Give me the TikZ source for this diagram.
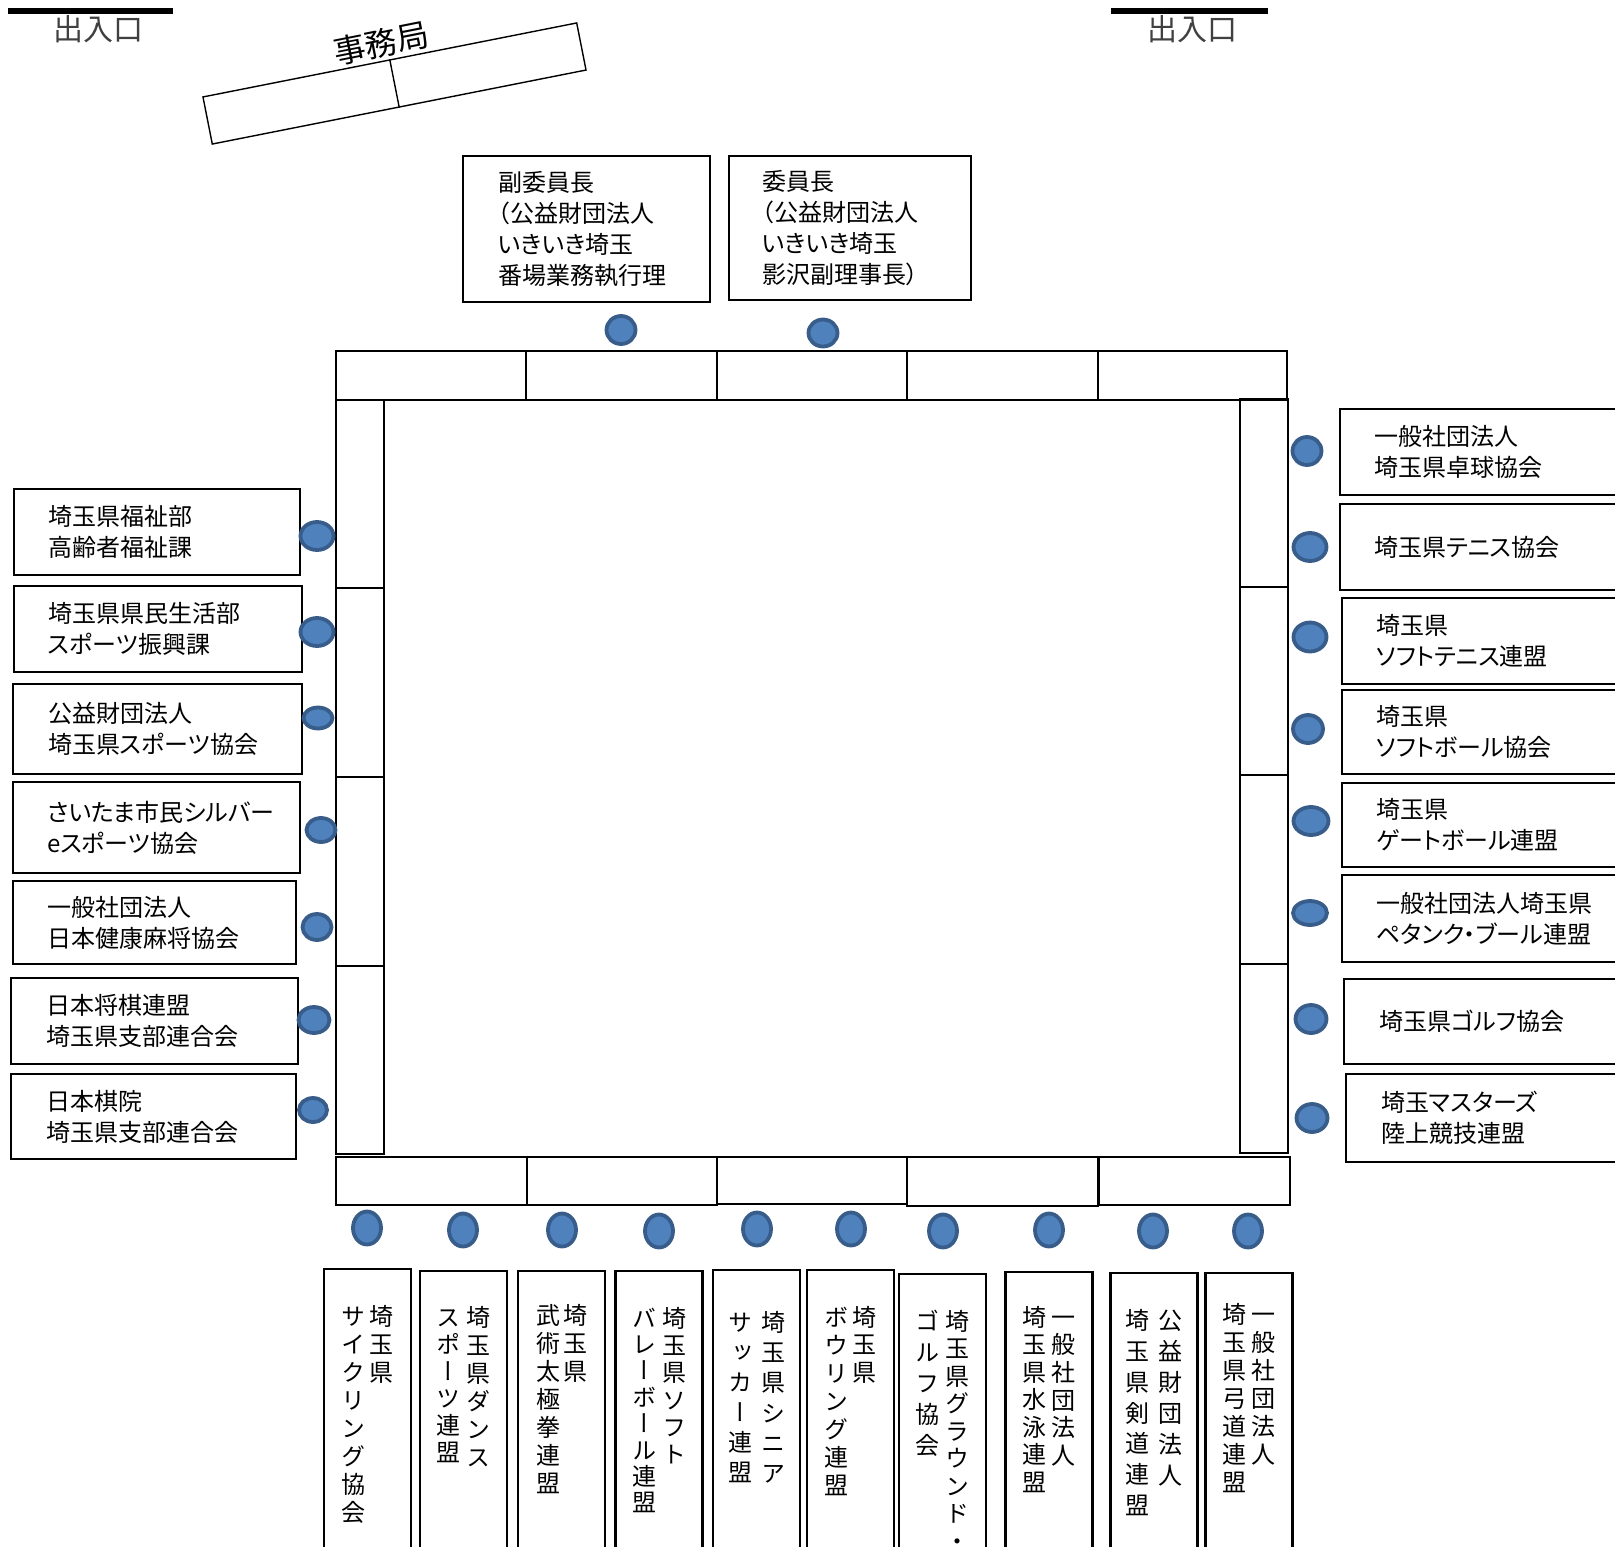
\documentclass[tikz,border=0pt]{standalone}
\usepackage{fontspec}
\newfontfamily\jph[RawFeature=+palt]{Noto Sans CJK JP}
\newfontfamily\jpv[RawFeature=+vert]{Noto Sans CJK JP}
\newfontfamily\jpn{Noto Sans CJK JP}
\usetikzlibrary{shapes.geometric}
\definecolor{dotfill}{HTML}{4F81BD}
\definecolor{dotline}{HTML}{385D8A}
\ExplSyntaxOn
\NewDocumentCommand\vcol{O{28}m}{\vtop{\baselineskip=#1pt\lineskiplimit=-200pt\lineskip=0pt\tl_map_inline:nn{#2}{\hbox~to~24pt{\hss##1\hss}}}}
\ExplSyntaxOff
\newcommand\tlines[2]{\hspace*{#1pt}\raisebox{-3pt}[\height][\depth]{\begin{tabular}{@{}l@{}}#2\end{tabular}}}
\begin{document}
\begin{tikzpicture}[x=1pt,y=-1pt,
  tbl/.style={draw, line width=1.4pt},
  orgbox/.style={draw, line width=2.2pt, inner sep=0pt, anchor=north west, align=left, font=\jph\fontsize{24}{31}\selectfont},
  vbox/.style={draw, line width=2.2pt, inner sep=0pt, anchor=north, minimum width=87pt, text depth=400pt, font=\jpv\fontsize{24}{28}\selectfont},
  seat/.style={ellipse, draw=dotline, fill=dotfill, line width=3.8pt, inner sep=0pt},
  door/.style={line width=6pt},
  doorlbl/.style={font=\jpn\fontsize{30}{30}\selectfont, text=black!75, inner sep=0pt}]
\useasboundingbox (0,0) rectangle (1615,1547);
\clip (0,0) rectangle (1615,1547);

% entrances
\coordinate (dl1) at (8,10.5); \coordinate (dl2) at (173,10.5);
\coordinate (dr1) at (1111,10.5); \coordinate (dr2) at (1268,10.5);
\draw[door] (dl1) -- (dl2);
\draw[door] (dr1) -- (dr2);
\node[doorlbl] (doorL) at (98,29.5) {出入口};
\node[doorlbl] (doorR) at (1192,29.5) {出入口};

% office desk
\node[draw, line width=1.4pt, rotate=11.2, minimum width=381pt, minimum height=48pt, inner sep=0pt] (desk) at (394.5,83.5) {};
\draw[line width=1.4pt] (desk.north) -- (desk.south);
\node[rotate=11.2, font=\jpn\fontsize{32}{32}\selectfont, inner sep=0pt] (deskname) at (381,43) {事務局};

% table
\draw[tbl] (336,351) rectangle (526,400);
\draw[tbl] (526,351) rectangle (717,400);
\draw[tbl] (717,351) rectangle (907,400);
\draw[tbl] (907,351) rectangle (1098,400);
\draw[tbl] (1098,351) rectangle (1287,400);
\draw[tbl] (336,400) rectangle (384,588);
\draw[tbl] (336,588) rectangle (384,777);
\draw[tbl] (336,777) rectangle (384,966);
\draw[tbl] (336,966) rectangle (384,1154);
\draw[tbl] (1240,399) rectangle (1288,587);
\draw[tbl] (1240,587) rectangle (1288,775);
\draw[tbl] (1240,775) rectangle (1288,964);
\draw[tbl] (1240,964) rectangle (1288,1153);
\draw[tbl] (336,1157) rectangle (527,1205);
\draw[tbl] (527,1157) rectangle (717,1205);
\draw[tbl] (717,1157) rectangle (907,1204);
\draw[tbl] (907,1157) rectangle (1098,1206);
\draw[tbl] (1099,1157) rectangle (1290,1205);

% top boxes
\node[orgbox, text width=247pt, minimum height=146pt] (vchair) at (462,155) {\tlines{35}{副委員長\\（公益財団法人\\いきいき埼玉\\番場業務執行理}};
\node[orgbox, text width=242pt, minimum height=144pt] (chair) at (728,155) {\tlines{33}{委員長\\（公益財団法人\\いきいき埼玉\\影沢副理事長）}};

% left boxes
\node[orgbox, text width=286pt, minimum height=86pt] (l1) at (13,488) {\tlines{34}{埼玉県福祉部\\高齢者福祉課}};
\node[orgbox, text width=288pt, minimum height=86pt] (l2) at (13,585) {\tlines{34}{埼玉県県民生活部\\スポーツ振興課}};
\node[orgbox, text width=289pt, minimum height=90pt] (l3) at (12,683) {\tlines{35}{公益財団法人\\埼玉県スポーツ協会}};
\node[orgbox, text width=287pt, minimum height=91pt] (l4) at (12,781) {\tlines{34}{さいたま市民シルバー\\eスポーツ協会}};
\node[orgbox, text width=283pt, minimum height=83pt] (l5) at (12,880) {\tlines{34}{一般社団法人\\日本健康麻将協会}};
\node[orgbox, text width=287pt, minimum height=86pt] (l6) at (10,977) {\tlines{35}{日本将棋連盟\\埼玉県支部連合会}};
\node[orgbox, text width=285pt, minimum height=85pt] (l7) at (10,1073) {\tlines{35}{日本棋院\\埼玉県支部連合会}};

% right boxes
\node[orgbox, text width=301pt, minimum height=86pt] (r1) at (1339,408) {\tlines{34}{一般社団法人\\埼玉県卓球協会}};
\node[orgbox, text width=301pt, minimum height=86pt] (r2) at (1339,503) {\tlines{34}{埼玉県テニス協会}};
\node[orgbox, text width=299pt, minimum height=86pt] (r3) at (1341,597) {\tlines{34}{埼玉県\\ソフトテニス連盟}};
\node[orgbox, text width=299pt, minimum height=84pt] (r4) at (1341,689) {\tlines{34}{埼玉県\\ソフトボール協会}};
\node[orgbox, text width=299pt, minimum height=84pt] (r5) at (1341,782) {\tlines{34}{埼玉県\\ゲートボール連盟}};
\node[orgbox, text width=299pt, minimum height=87pt] (r6) at (1341,874) {\tlines{34}{一般社団法人埼玉県\\ペタンク・ブール連盟}};
\node[orgbox, text width=297pt, minimum height=85pt] (r7) at (1343,978) {\tlines{35}{埼玉県ゴルフ協会}};
\node[orgbox, text width=295pt, minimum height=88pt] (r8) at (1345,1073) {\tlines{35}{埼玉マスターズ\\陸上競技連盟}};

% bottom boxes (vertical text, right column first)
\node[vbox, text height=56.5pt] (b1) at (367.5,1268) {\vcol{サイクリング協会}\hspace{4pt}\vcol{埼玉県}};
\node[vbox, text height=55pt] (b2) at (463.5,1270) {\vcol[27]{スポーツ連盟}\hspace{6pt}\vcol{埼玉県ダンス}};
\node[vbox, text height=53pt] (b3) at (561.5,1270) {\vcol{武術太極拳連盟}\hspace{3pt}\vcol{埼玉県}};
\node[vbox, text height=56pt] (b4) at (659,1270) {\vcol[26.4]{バレーボール連盟}\hspace{6pt}\vcol[27.3]{埼玉県ソフト}};
\node[vbox, text height=61pt] (b5) at (756.5,1269) {\vcol[30]{サッカー連盟}\hspace{9pt}\vcol[30.3]{埼玉県シニア}};
\node[vbox, text height=56pt] (b6) at (850.5,1269) {\vcol[28]{ボウリング連盟}\hspace{4pt}\vcol[27.5]{埼玉県}};
\node[vbox, text height=56pt] (b7) at (942.5,1273) {\vcol[31]{ゴルフ協会}\hspace{6pt}\vcol[27.5]{埼玉県グラウンド・}};
\node[vbox, text height=54pt] (b8) at (1049,1271) {\vcol[27.5]{埼玉県水泳連盟}\hspace{5pt}\vcol[27.7]{一般社団法人}};
\node[vbox, text height=56.5pt] (b9) at (1154,1272) {\vcol[30.8]{埼玉県剣道連盟}\hspace{9pt}\vcol[31]{公益財団法人}};
\node[vbox, text height=50pt] (b10) at (1249,1272) {\vcol{埼玉県弓道連盟}\hspace{5pt}\vcol{一般社団法人}};

% seats
\node[seat, minimum width=29pt, minimum height=28pt] (st1) at (621,330) {};
\node[seat, minimum width=29pt, minimum height=27pt] (st2) at (823,333) {};
\node[seat, minimum width=33pt, minimum height=28pt] (sl1) at (317,536) {};
\node[seat, minimum width=33pt, minimum height=28pt] (sl2) at (317,632) {};
\node[seat, minimum width=29pt, minimum height=21pt] (sl3) at (318,718) {};
\node[seat, minimum width=29pt, minimum height=24pt] (sl4) at (321,830) {};
\node[seat, minimum width=29pt, minimum height=26pt] (sl5) at (317,927) {};
\node[seat, minimum width=31pt, minimum height=26pt] (sl6) at (314,1020) {};
\node[seat, minimum width=28pt, minimum height=24pt] (sl7) at (313,1110) {};
\node[seat, minimum width=29pt, minimum height=28pt] (sr1) at (1307,451) {};
\node[seat, minimum width=33pt, minimum height=28pt] (sr2) at (1310,547) {};
\node[seat, minimum width=33pt, minimum height=29pt] (sr3) at (1310,637) {};
\node[seat, minimum width=30pt, minimum height=28pt] (sr4) at (1308,729) {};
\node[seat, minimum width=35pt, minimum height=28pt] (sr5) at (1311,821) {};
\node[seat, minimum width=34pt, minimum height=24pt] (sr6) at (1310,913) {};
\node[seat, minimum width=31pt, minimum height=28pt] (sr7) at (1311,1019) {};
\node[seat, minimum width=31pt, minimum height=28pt] (sr8) at (1312,1118) {};
\node[seat, minimum width=28pt, minimum height=33pt] (sb1) at (367,1228) {};
\node[seat, minimum width=28pt, minimum height=33pt] (sb2) at (463,1230) {};
\node[seat, minimum width=28pt, minimum height=33pt] (sb3) at (562,1230) {};
\node[seat, minimum width=28pt, minimum height=33pt] (sb4) at (659,1231) {};
\node[seat, minimum width=28pt, minimum height=33pt] (sb5) at (757,1229) {};
\node[seat, minimum width=28pt, minimum height=33pt] (sb6) at (851,1229) {};
\node[seat, minimum width=28pt, minimum height=33pt] (sb7) at (943,1231) {};
\node[seat, minimum width=28pt, minimum height=33pt] (sb8) at (1049,1230) {};
\node[seat, minimum width=28pt, minimum height=33pt] (sb9) at (1153,1231) {};
\node[seat, minimum width=28pt, minimum height=33pt] (sb10) at (1248,1231) {};
\end{tikzpicture}
\end{document}
